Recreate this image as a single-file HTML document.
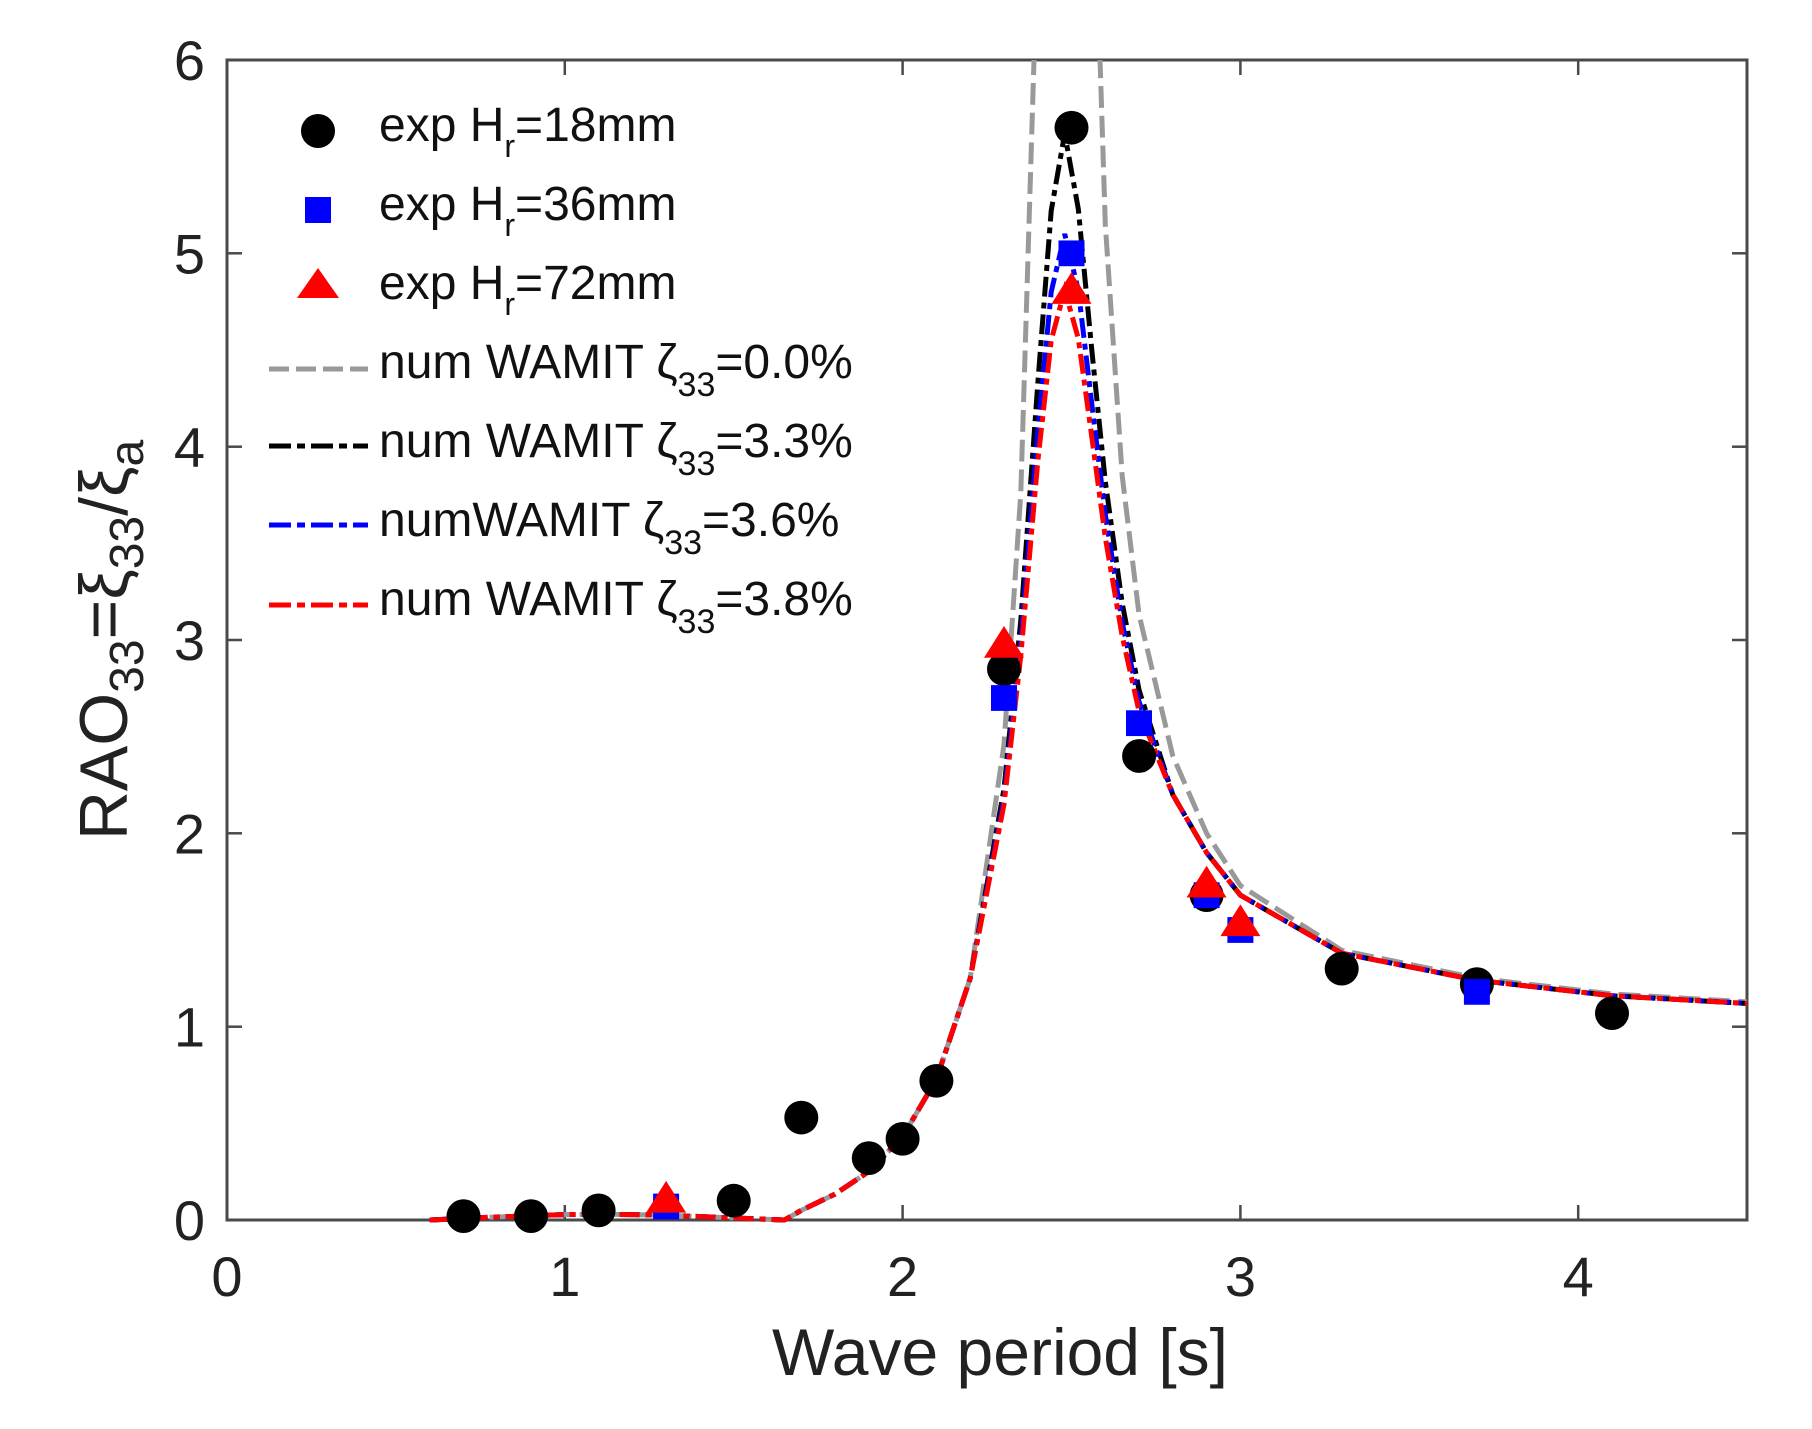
<!DOCTYPE html>
<html><head><meta charset="utf-8"><style>
html,body{margin:0;padding:0;background:#fff;}
svg{display:block;font-family:"Liberation Sans",sans-serif;}
</style></head><body>
<svg width="1812" height="1429" viewBox="0 0 1812 1429" xmlns="http://www.w3.org/2000/svg">
<defs><clipPath id="c"><rect x="227" y="60" width="1520" height="1181"/></clipPath></defs>
<rect width="1812" height="1429" fill="#fff"/>
<rect x="227" y="60" width="1520" height="1160" fill="none" stroke="#4a4a4a" stroke-width="3"/>
<g stroke="#4a4a4a" stroke-width="2.5">
<line x1="564.8" y1="1220" x2="564.8" y2="1205"/><line x1="902.6" y1="1220" x2="902.6" y2="1205"/><line x1="1240.4" y1="1220" x2="1240.4" y2="1205"/><line x1="1578.2" y1="1220" x2="1578.2" y2="1205"/>
<line x1="564.8" y1="60" x2="564.8" y2="75"/><line x1="902.6" y1="60" x2="902.6" y2="75"/><line x1="1240.4" y1="60" x2="1240.4" y2="75"/><line x1="1578.2" y1="60" x2="1578.2" y2="75"/>
<line x1="227" y1="1026.7" x2="242" y2="1026.7"/><line x1="227" y1="833.3" x2="242" y2="833.3"/><line x1="227" y1="640" x2="242" y2="640"/><line x1="227" y1="446.7" x2="242" y2="446.7"/><line x1="227" y1="253.3" x2="242" y2="253.3"/>
<line x1="1747" y1="1026.7" x2="1732" y2="1026.7"/><line x1="1747" y1="833.3" x2="1732" y2="833.3"/><line x1="1747" y1="640" x2="1732" y2="640"/><line x1="1747" y1="446.7" x2="1732" y2="446.7"/><line x1="1747" y1="253.3" x2="1732" y2="253.3"/>
</g>
<g font-size="56" fill="#222" text-anchor="end">
<text x="205" y="1240">0</text><text x="205" y="1046.7">1</text><text x="205" y="853.3">2</text><text x="205" y="660">3</text><text x="205" y="466.7">4</text><text x="205" y="273.3">5</text><text x="205" y="80">6</text>
</g>
<g font-size="56" fill="#222" text-anchor="middle">
<text x="227" y="1296">0</text><text x="564.8" y="1296">1</text><text x="902.6" y="1296">2</text><text x="1240.4" y="1296">3</text><text x="1578.2" y="1296">4</text>
</g>
<g clip-path="url(#c)">
<g transform="translate(0,60) scale(1,0.991453) translate(0,-60)">
<g fill="none" stroke-width="5">
<path stroke="#999" stroke-dasharray="22,8" d="M429.7,1230 L497.2,1226.9 L564.8,1224.5 L605.3,1224.2 L666.1,1225.1 L733.7,1227.9 L784.4,1230 L801.3,1220.3 L835,1203.9 L868.8,1181.1 L902.6,1146 L936.4,1088 L970.2,986.3 L1004,750.3 L1020.8,496.8 L1037.7,-62.9 L1091.8,-199 L1105.3,225.8 L1122.2,479.3 L1139.1,619.7 L1172.8,762 L1206.6,840 L1240.4,892.7 L1341.7,958 L1476.9,986 L1612,1002 L1747.1,1010"/>
<path stroke="#000" stroke-dasharray="20,6,6,6" d="M429.7,1230 L497.2,1226.9 L564.8,1224.5 L605.3,1224.2 L666.1,1225.1 L733.7,1227.9 L784.4,1230 L801.3,1220.3 L835,1203.9 L868.8,1181.1 L902.6,1146 L936.4,1088 L970.2,986.3 L1004,795.2 L1020.8,625.5 L1037.7,387.6 L1051.2,212.1 L1064.7,134.1 L1078.3,210.2 L1091.8,352.5 L1105.3,485.1 L1122.2,608 L1139.1,695.7 L1172.8,801 L1206.6,859.5 L1240.4,902.4 L1341.7,960.9 L1476.9,988.2 L1612,1003.8 L1747.1,1011.6"/>
<path stroke="#00f" stroke-dasharray="20,6,6,6" d="M429.7,1230 L497.2,1226.9 L564.8,1224.5 L605.3,1224.2 L666.1,1225.1 L733.7,1227.9 L784.4,1230 L801.3,1220.3 L835,1203.9 L868.8,1181.1 L902.6,1146 L936.4,1088 L970.2,986.3 L1004,804.9 L1020.8,646.9 L1037.7,436.4 L1051.2,294 L1064.7,235.5 L1078.3,292 L1091.8,407.1 L1105.3,518.3 L1122.2,627.5 L1139.1,707.4 L1172.8,801 L1206.6,859.5 L1240.4,902.4 L1341.7,960.9 L1476.9,988.2 L1612,1003.8 L1747.1,1011.6"/>
<path stroke="#f00" stroke-dasharray="20,6,6,6" d="M429.7,1230 L497.2,1226.9 L564.8,1224.5 L605.3,1224.2 L666.1,1225.1 L733.7,1227.9 L784.4,1230 L801.3,1220.3 L835,1203.9 L868.8,1181.1 L902.6,1146 L936.4,1088 L970.2,986.3 L1004,810.8 L1020.8,660.6 L1037.7,465.6 L1051.2,342.8 L1064.7,292 L1078.3,340.8 L1091.8,440.3 L1105.3,541.7 L1122.2,641.1 L1139.1,717.2 L1172.8,801 L1206.6,859.5 L1240.4,902.4 L1341.7,960.9 L1476.9,988.2 L1612,1003.8 L1747.1,1011.6"/>
</g>
<g fill="#000">
<circle cx="463.5" cy="1226.1" r="17"/><circle cx="531" cy="1226.1" r="17"/><circle cx="598.6" cy="1220.3" r="17"/><circle cx="733.7" cy="1210.5" r="17"/><circle cx="801.3" cy="1126.7" r="17"/><circle cx="868.8" cy="1167.6" r="17"/><circle cx="902.6" cy="1148.1" r="17"/><circle cx="936.4" cy="1089.6" r="17"/><circle cx="1004" cy="674.3" r="17"/><circle cx="1071.5" cy="128.3" r="17"/><circle cx="1139.1" cy="762" r="17"/><circle cx="1206.6" cy="902.4" r="17"/><circle cx="1341.7" cy="976.5" r="17"/><circle cx="1476.9" cy="992.1" r="17"/><circle cx="1612" cy="1021.4" r="17"/>
</g>
<g fill="#00f">
<rect x="653.1" y="1203.4" width="26" height="26"/><rect x="991" y="690.5" width="26" height="26"/><rect x="1058.5" y="242" width="26" height="26"/><rect x="1126" y="715.9" width="26" height="26"/><rect x="1193.6" y="889.4" width="26" height="26"/><rect x="1227.4" y="924.5" width="26" height="26"/><rect x="1463.9" y="986.9" width="26" height="26"/>
</g>
<g fill="#f00">
<polygon points="666.1,1190.5 686.1,1222.5 646.1,1222.5"/><polygon points="1004,630.9 1024,662.9 984,662.9"/><polygon points="1071.5,274 1091.5,306 1051.5,306"/><polygon points="1206.6,872.7 1226.6,904.7 1186.6,904.7"/><polygon points="1240.4,911.7 1260.4,943.7 1220.4,943.7"/>
</g>
</g>
</g>
<text x="1000" y="1375" font-size="66" text-anchor="middle" fill="#222">Wave period [s]</text>
<text transform="translate(127,640) rotate(-90)" font-size="68" text-anchor="middle" fill="#222">RAO<tspan font-size="48" dy="16">33</tspan><tspan dy="-16">=ξ</tspan><tspan font-size="48" dy="16">33</tspan><tspan dy="-16">/ξ</tspan><tspan font-size="48" dy="16">a</tspan></text>
<g font-size="48" fill="#111">
<circle cx="318" cy="131" r="17" fill="#000"/>
<rect x="305" y="197" width="26" height="26" fill="#00f"/>
<polygon points="318,268 339,298 297,298" fill="#f00"/>
<text x="379" y="141">exp H<tspan font-size="32" dy="16">r</tspan><tspan dy="-16">=18mm</tspan></text>
<text x="379" y="220">exp H<tspan font-size="32" dy="16">r</tspan><tspan dy="-16">=36mm</tspan></text>
<text x="379" y="299">exp H<tspan font-size="32" dy="16">r</tspan><tspan dy="-16">=72mm</tspan></text>
<text x="379" y="378">num WAMIT ζ<tspan font-size="34" dy="18">33</tspan><tspan dy="-18">=0.0%</tspan></text>
<text x="379" y="457">num WAMIT ζ<tspan font-size="34" dy="18">33</tspan><tspan dy="-18">=3.3%</tspan></text>
<text x="379" y="536">numWAMIT ζ<tspan font-size="34" dy="18">33</tspan><tspan dy="-18">=3.6%</tspan></text>
<text x="379" y="615">num WAMIT ζ<tspan font-size="34" dy="18">33</tspan><tspan dy="-18">=3.8%</tspan></text>
<line x1="269" y1="369" x2="368" y2="369" stroke="#999" stroke-width="5" stroke-dasharray="20,7"/>
<line x1="269" y1="446" x2="368" y2="446" stroke="#000" stroke-width="5" stroke-dasharray="22,6,8,6"/>
<line x1="269" y1="525" x2="368" y2="525" stroke="#00f" stroke-width="5" stroke-dasharray="22,6,8,6"/>
<line x1="269" y1="605" x2="368" y2="605" stroke="#f00" stroke-width="5" stroke-dasharray="22,6,8,6"/>
</g>
</svg>
</body></html>
